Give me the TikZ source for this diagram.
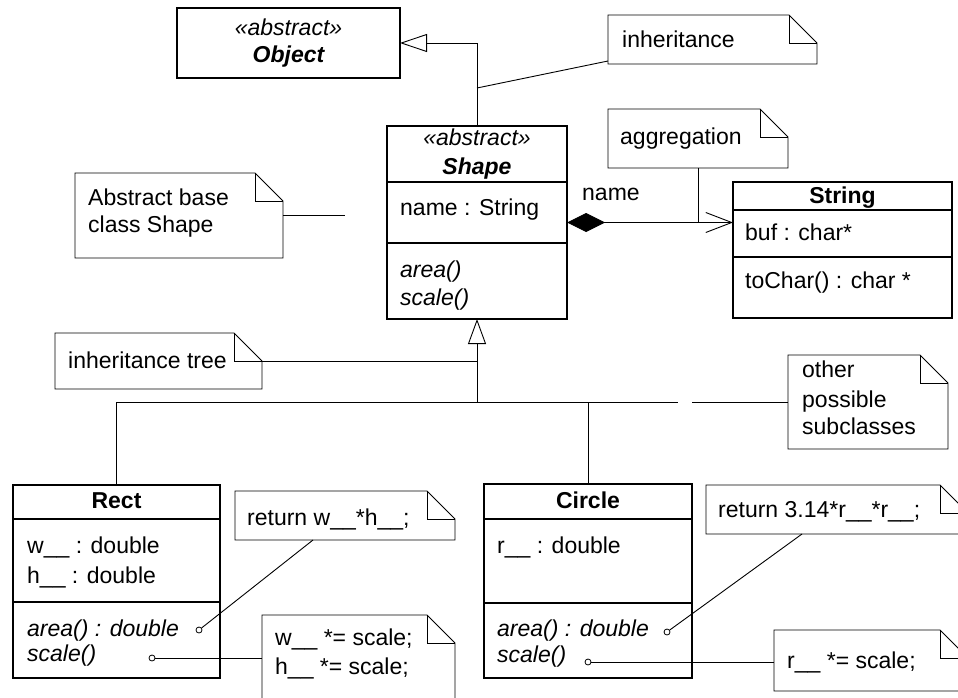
\documentclass[tikz,border=0pt]{standalone}
\usepackage{fontspec}
\setmainfont{Liberation Sans}
\usetikzlibrary{arrows.meta}
\newcommand\drawnote[1]{%
  \draw[notel] (#1.north west) -- ([xshift=-28pt]#1.north east) -- ([yshift=-28pt]#1.north east) -- (#1.south east) -- (#1.south west) -- cycle;
  \draw[notel] ([xshift=-28pt]#1.north east) |- ([yshift=-28pt]#1.north east);}
\begin{document}
\begin{tikzpicture}[x=1pt,y=-1pt,
  every node/.style={font=\fontsize{23}{27}\selectfont},
  cls/.style={draw, line width=1.2pt, inner sep=0pt, outer sep=0pt, anchor=north west},
  notebox/.style={inner sep=0pt, outer sep=0pt, anchor=north west},
  notel/.style={line width=0.9pt, line join=miter},
  txt/.style={inner sep=0pt, anchor=base west},
  ctr/.style={inner sep=0pt, anchor=base},
  ln/.style={line width=0.9pt},
  sep/.style={line width=1.1pt},
  port/.style={circle, draw, fill=white, inner sep=0pt, minimum size=6pt, line width=0.8pt},
]
\useasboundingbox (0,0) rectangle (958,698);
\clip (0,0) rectangle (958,698);

% ---------- Object ----------
\node[cls, minimum width=223pt, minimum height=70pt] (object) at (177,8) {};
\node[ctr] (objst) at (288.5,36) {\itshape «abstract»};
\node[ctr] (objnm) at (288.5,63) {\bfseries\itshape Object};

% ---------- Shape ----------
\node[cls, minimum width=180pt, minimum height=193pt] (shape) at (387,126) {};
\draw[sep] (shape.west |- 0,182) -- (shape.east |- 0,182);
\draw[sep] (shape.west |- 0,243) -- (shape.east |- 0,243);
\node[ctr] (shst) at (477,146) {\itshape «abstract»};
\node[ctr] (shnm) at (477,175) {\bfseries\itshape Shape};
\node[txt] (shat) at (400,215) {name : String};
\node[txt] (sham) at (400,277) {\itshape area()};
\node[txt] (shsm) at (400,305) {\itshape scale()};

% ---------- String ----------
\node[cls, minimum width=219pt, minimum height=136pt] (string) at (733,182) {};
\draw[sep] (string.west |- 0,210) -- (string.east |- 0,210);
\draw[sep] (string.west |- 0,257) -- (string.east |- 0,257);
\node[ctr] (stnm) at (842.5,203) {\bfseries String};
\node[txt] (stat) at (745,240) {buf : char*};
\node[txt] (stop) at (745,288) {toChar() : char *};

% ---------- Rect ----------
\node[cls, minimum width=207pt, minimum height=193pt] (rect) at (13,485) {};
\draw[sep] (rect.west |- 0,519) -- (rect.east |- 0,519);
\draw[sep] (rect.west |- 0,602) -- (rect.east |- 0,602);
\node[ctr] (renm) at (116.5,508) {\bfseries Rect};
\node[txt] (rew) at (27,553) {w\_\_ : double};
\node[txt] (reh) at (27,583) {h\_\_ : double};
\node[txt] (rea) at (27,636) {\itshape area() : double};
\node[txt] (res) at (27,661) {\itshape scale()};

% ---------- Circle ----------
\node[cls, minimum width=208pt, minimum height=194pt] (circle) at (484,484) {};
\draw[sep] (circle.west |- 0,519) -- (circle.east |- 0,519);
\draw[sep] (circle.west |- 0,603) -- (circle.east |- 0,603);
\node[ctr] (cinm) at (588,508) {\bfseries Circle};
\node[txt] (cir) at (497,553) {r\_\_ : double};
\node[txt] (cia) at (497,636) {\itshape area() : double};
\node[txt] (cis) at (497,662) {\itshape scale()};

% ---------- Notes ----------
\node[notebox, minimum width=209pt, minimum height=49pt] (inh) at (608,15) {};
\drawnote{inh}
\node[txt] (inht) at (622,48) {inheritance};

\node[notebox, minimum width=180pt, minimum height=59pt] (agg) at (608,109) {};
\drawnote{agg}
\node[txt] (aggt) at (620,145) {aggregation};

\node[notebox, minimum width=208pt, minimum height=85pt] (abs) at (75,173) {};
\drawnote{abs}
\node[txt] (abst1) at (88,205) {Abstract base};
\node[txt] (abst2) at (88,232) {class Shape};

\node[notebox, minimum width=207pt, minimum height=56pt] (itree) at (55,333) {};
\drawnote{itree}
\node[txt] (itreet) at (68,368) {inheritance tree};

\node[notebox, minimum width=160pt, minimum height=94pt] (other) at (788,355) {};
\drawnote{other}
\node[txt] (oth1) at (802,377) {other};
\node[txt] (oth2) at (802,407) {possible};
\node[txt] (oth3) at (802,434) {subclasses};

\node[notebox, minimum width=220pt, minimum height=49pt] (rw) at (235,491) {};
\drawnote{rw}
\node[txt] (rwt) at (247,525) {return w\_\_*h\_\_;};

\node[notebox, minimum width=193pt, minimum height=97pt] (ws) at (262,615) {};
\drawnote{ws}
\node[txt] (wst1) at (275,645) {w\_\_ *= scale;};
\node[txt] (wst2) at (275,674) {h\_\_ *= scale;};

\node[notebox, minimum width=262pt, minimum height=49pt] (rc) at (706,485) {};
\drawnote{rc}
\node[txt] (rct) at (718,517) {return 3.14*r\_\_*r\_\_;};

\node[notebox, minimum width=194pt, minimum height=61pt] (rsn) at (774,630) {};
\drawnote{rsn}
\node[txt] (rsnt) at (787,668) {r\_\_ *= scale;};

% ---------- Connectors ----------
\draw[ln, -{Triangle[open, length=27pt, width=18pt]}] (shape.north) |- (object.east);
\coordinate (inhj) at (477,88);
\draw[ln] ([yshift=3pt]inh.south west) -- (inhj);

\node[txt] (aggname) at (582,200) {name};
\draw[ln, {Diamond[length=38pt,width=19pt]}-{Straight Barb[length=26pt,width=20pt]}] (shape.east) -- (string.west |- shape.east);
\draw[ln] (agg.south) -- (agg.south |- shape.east);

\coordinate (absend) at (345,215.5);
\draw[ln] (abs.east) -- (absend);

\coordinate (treej) at (477,402);
\coordinate (gapl) at (678,402);
\coordinate (gapr) at (692,402);
\draw[ln, -{Triangle[open, length=25pt, width=18pt]}] (treej) -- (shape.south);
\draw[ln] (itree.east) -- (itree.east -| treej);
\draw[ln] (rect.north) |- (gapl);
\draw[ln] (circle.north) -- (circle.north |- treej);
\draw[ln] (gapr) -- (other.west);

% ports
\node[port] (ra) at (199,630) {};
\node[port] (rs) at (152,658) {};
\node[port] (ca) at (667,632) {};
\node[port] (cs) at (588,662) {};
\draw[ln] (ra) -- ([xshift=78pt]rw.south west);
\draw[ln] (rs) -- (rs -| ws.west);
\draw[ln] (ca) -- ([xshift=96pt]rc.south west);
\draw[ln] (cs) -- (cs -| rsn.west);
\end{tikzpicture}
\end{document}
